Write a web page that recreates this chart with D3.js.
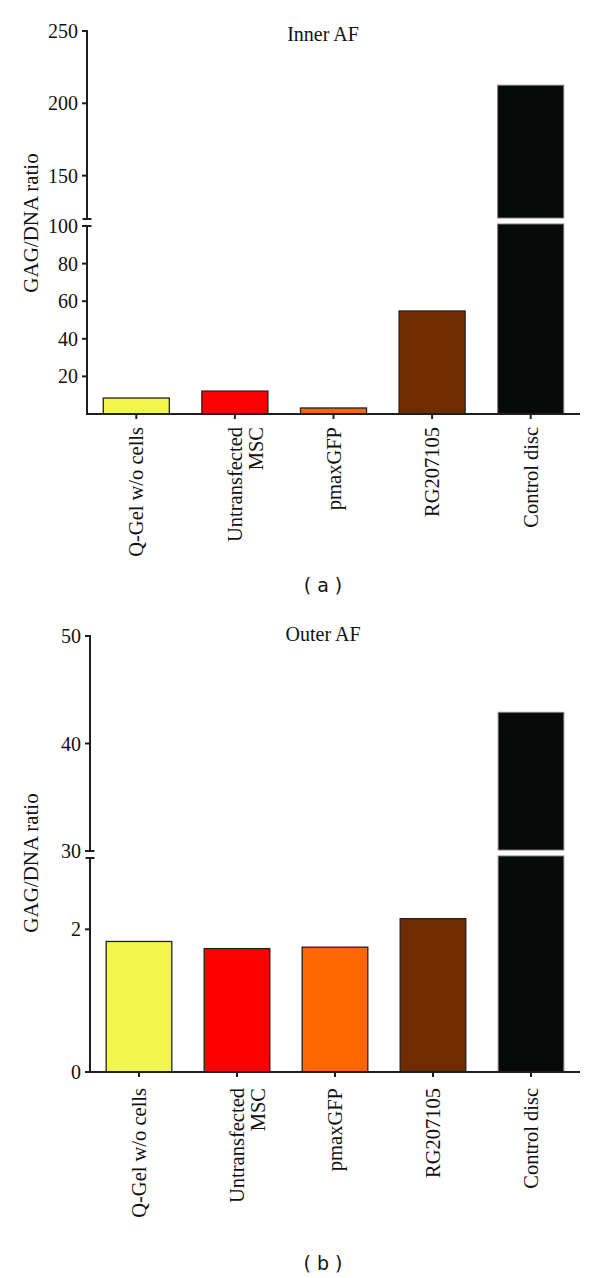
<!DOCTYPE html>
<html>
<head>
<meta charset="utf-8">
<script src="https://cdn.jsdelivr.net/npm/d3@7/dist/d3.min.js"></script>
<style>
  html, body { margin: 0; padding: 0; background: #fff; }
  svg { display: block; }
</style>
</head>
<body>
<svg id="chart" width="600" height="1278"></svg>
<script>
// ---- Data ----
const categories = ["Q-Gel w/o cells", "Untransfected MSC", "pmaxGFP", "RG207105", "Control disc"];
const categoryLines = [["Q-Gel w/o cells"], ["Untransfected", "MSC"], ["pmaxGFP"], ["RG207105"], ["Control disc"]];
const barColors = ["#f3f54b", "#fe0000", "#ff6500", "#6e2c00", "#070a08"];

const innerValues = [8.5, 12.2, 3.2, 54.8, 212.5];
const outerValues = [1.83, 1.73, 1.75, 2.15, 42.9];

const innerLowTicks = [20, 40, 60, 80, 100];
const innerHighTicks = [150, 200, 250];
const outerLowTicks = [0, 2];
const outerHighTicks = [30, 40, 50];

const innerLowDomain = [0, 100];
const innerHighDomain = [120, 250];
const outerLowDomain = [0, 3];
const outerHighDomain = [30, 50];

const titles = ["Inner AF", "Outer AF"];
const yLabel = "GAG/DNA ratio";
const panelTags = ["( a )", "( b )"];

// ---- Layout ----
const svg = d3.select("#chart");
const serif = "'Liberation Serif', 'Times New Roman', serif";
const sans = "'DejaVu Sans', sans-serif";
const axisColor = "#1e1e1e";

const panels = [
  {
    values: innerValues, lowDomain: innerLowDomain, highDomain: innerHighDomain,
    lowTicks: innerLowTicks, highTicks: innerHighTicks,
    axisX: 87, right: 580, lowRange: [414, 226], highRange: [219, 31],
    title: titles[0], titleY: 41, yLabelY: 223, labelTop: 427, tag: panelTags[0], tagY: 592
  },
  {
    values: outerValues, lowDomain: outerLowDomain, highDomain: outerHighDomain,
    lowTicks: outerLowTicks, highTicks: outerHighTicks,
    axisX: 90, right: 580, lowRange: [1072, 858], highRange: [851, 636],
    title: titles[1], titleY: 641, yLabelY: 863, labelTop: 1088, tag: panelTags[1], tagY: 1270
  }
];

panels.forEach(p => {
  const g = svg.append("g");
  const x = d3.scaleBand().domain(categories).range([p.axisX, p.right])
    .paddingInner(0.33).paddingOuter(0.165);
  const yLow = d3.scaleLinear().domain(p.lowDomain).range(p.lowRange);
  const yHigh = d3.scaleLinear().domain(p.highDomain).range(p.highRange);
  const data = categories.map((c, i) => ({ c, v: p.values[i], color: barColors[i], lines: categoryLines[i] }));

  // Bars
  data.forEach(d => {
    const isBlack = d.color === "#070a08";
    const stroke = isBlack ? "#7a7a7a" : "#222";
    if (d.v <= p.lowDomain[1]) {
      g.append("rect")
        .attr("x", x(d.c)).attr("width", x.bandwidth())
        .attr("y", yLow(d.v)).attr("height", yLow(0) - yLow(d.v))
        .attr("fill", d.color).attr("stroke", stroke).attr("stroke-width", 1.3);
    } else {
      const lowTop = yLow(p.lowDomain[1]) - 2;
      g.append("rect")
        .attr("x", x(d.c)).attr("width", x.bandwidth())
        .attr("y", lowTop).attr("height", yLow(0) - lowTop)
        .attr("fill", d.color).attr("stroke", stroke).attr("stroke-width", 1);
      const hb = yHigh(p.highDomain[0]) - 1;
      g.append("rect")
        .attr("x", x(d.c)).attr("width", x.bandwidth())
        .attr("y", yHigh(d.v)).attr("height", hb - yHigh(d.v))
        .attr("fill", d.color).attr("stroke", stroke).attr("stroke-width", 1);
    }
  });

  // Y axis segments
  const ax = p.axisX;
  const lineStyle = sel => sel.attr("stroke", axisColor).attr("stroke-width", 2).attr("fill", "none");
  g.append("line").attr("x1", ax).attr("x2", ax)
    .attr("y1", yHigh(p.highDomain[1]) - 1).attr("y2", yHigh(p.highDomain[0])).call(lineStyle);
  g.append("line").attr("x1", ax).attr("x2", ax)
    .attr("y1", yLow(p.lowDomain[1])).attr("y2", yLow(0) + 1).call(lineStyle);
  // Break marks
  [yHigh(p.highDomain[0]), yLow(p.lowDomain[1])].forEach(yy => {
    g.append("line").attr("x1", ax - 4.5).attr("x2", ax + 4.5)
      .attr("y1", yy).attr("y2", yy).call(lineStyle);
  });

  // Y ticks
  const drawTicks = (scale, ticks) => {
    ticks.forEach(t => {
      const yy = scale(t);
      g.append("line").attr("x1", ax - 5).attr("x2", ax).attr("y1", yy).attr("y2", yy).call(lineStyle);
      g.append("text").attr("x", ax - 9).attr("y", yy).attr("dy", "0.35em")
        .attr("text-anchor", "end").attr("font-family", serif).attr("font-size", 20)
        .attr("fill", "#111").text(t);
    });
  };
  drawTicks(yHigh, p.highTicks);
  drawTicks(yLow, p.lowTicks);

  // X axis
  g.append("line").attr("x1", ax - 1).attr("x2", p.right)
    .attr("y1", yLow(0)).attr("y2", yLow(0)).call(lineStyle);
  data.forEach(d => {
    const cx = x(d.c) + x.bandwidth() / 2;
    g.append("line").attr("x1", cx).attr("x2", cx)
      .attr("y1", yLow(0)).attr("y2", yLow(0) + 5).call(lineStyle);
    const t = g.append("text")
      .attr("transform", `translate(${cx},${p.labelTop}) rotate(-90)`)
      .attr("text-anchor", "end").attr("font-family", serif).attr("font-size", 20.5).attr("fill", "#111");
    d.lines.forEach((ln, k) => {
      t.append("tspan").attr("x", 0).attr("dy", k === 0 ? "0.35em" : "1.0em").text(ln);
    });
  });

  // Title
  g.append("text").attr("x", 323).attr("y", p.titleY).attr("text-anchor", "middle")
    .attr("font-family", serif).attr("font-size", 20).attr("fill", "#111").text(p.title);

  // Y label
  g.append("text").attr("transform", `translate(38,${p.yLabelY}) rotate(-90)`)
    .attr("text-anchor", "middle").attr("font-family", serif).attr("font-size", 21)
    .attr("fill", "#111").text(yLabel);

  // Panel tag
  g.append("text").attr("x", 323).attr("y", p.tagY).attr("text-anchor", "middle")
    .attr("font-family", sans).attr("font-size", 19).attr("fill", "#111")
    .attr("xml:space", "preserve").style("white-space", "pre").text(p.tag);
});
</script>
</body>
</html>
